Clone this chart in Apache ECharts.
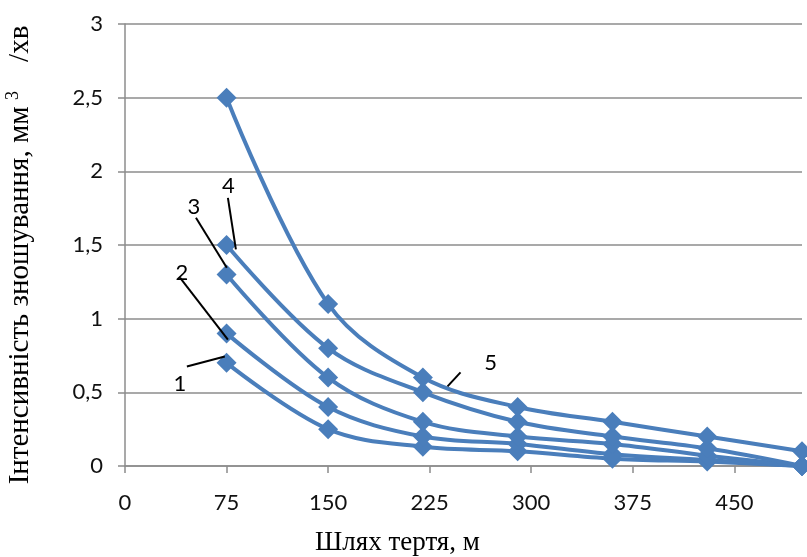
<!DOCTYPE html>
<html>
<head>
<meta charset="utf-8">
<script src="https://cdn.jsdelivr.net/npm/echarts@6/dist/echarts.min.js"></script>
<style>
  html, body { margin: 0; padding: 0; background: #fff; }
  #chart { width: 807px; height: 557px; }
</style>
</head>
<body>
<div id="chart"></div>
<script>
// Friction path, m
const distances = [75, 150, 220, 290, 360, 430, 500];
// Wear intensity for curves 1..5, mm3/min
const curve1 = [0.7, 0.25, 0.13, 0.1, 0.05, 0.03, 0];
const curve2 = [0.9, 0.4, 0.2, 0.15, 0.08, 0.04, 0];
const curve3 = [1.3, 0.6, 0.3, 0.2, 0.15, 0.07, 0];
const curve4 = [1.5, 0.8, 0.5, 0.3, 0.2, 0.12, 0];
const curve5 = [2.5, 1.1, 0.6, 0.4, 0.3, 0.2, 0.1];
const xTicks = [0, 75, 150, 225, 300, 375, 450];

const curves = [curve1, curve2, curve3, curve4, curve5];
const curveNames = ['1', '2', '3', '4', '5'];

// Callout for each curve: number position and leader line (data units)
const callouts = [
  { text: '1', at: [40.6, 0.554], line: [[45.7, 0.675], [73.7, 0.743]] },
  { text: '2', at: [42, 1.31], line: [[40.6, 1.278], [76, 0.858]] },
  { text: '3', at: [50.9, 1.756], line: [[52.4, 1.685], [75.2, 1.346]] },
  { text: '4', at: [76.3, 1.902], line: [[76, 1.82], [81.9, 1.47]] },
  { text: '5', at: [270, 0.703], line: [[238.2, 0.54], [247.8, 0.635]] }
];

const BLUE = '#4a7ebb';
const GRID = '#8c8c8c';
const numFont = 'Lato, "Open Sans", sans-serif';
const serifFont = '"Liberation Serif", "DejaVu Serif", serif';

const series = curves.map((vals, i) => {
  const c = callouts[i];
  return {
    name: curveNames[i],
    type: 'line',
    data: distances.map((d, k) => [d, vals[k]]),
    smooth: 0.35,
    symbol: 'diamond',
    symbolSize: 20,
    lineStyle: { color: BLUE, width: 4 },
    itemStyle: { color: BLUE },
    z: 2,
    markLine: {
      silent: true,
      symbol: 'none',
      animation: false,
      lineStyle: { color: '#000', width: 2, type: 'solid' },
      label: { show: false },
      data: [[{ coord: c.line[0] }, { coord: c.line[1] }]]
    },
    markPoint: {
      silent: true,
      animation: false,
      symbol: 'circle',
      symbolSize: 0,
      label: {
        show: true,
        position: 'inside',
        formatter: c.text,
        color: '#000',
        fontFamily: numFont,
        fontSize: 22
      },
      data: [{ coord: c.at }]
    }
  };
});

const chart = echarts.init(document.getElementById('chart'));
chart.setOption({
  animation: false,
  backgroundColor: '#fff',
  grid: { left: 125, top: 24, right: 5, bottom: 91, containLabel: false, outerBoundsMode: 'none' },
  xAxis: {
    type: 'value',
    min: 0,
    max: 500,
    interval: 75,
    name: 'Шлях тертя, м',
    nameLocation: 'middle',
    nameGap: 63,
    nameTextStyle: {
      fontFamily: serifFont, fontSize: 27, color: '#000',
      padding: [0, 132, 0, 0]
    },
    axisLine: { show: true, lineStyle: { color: GRID, width: 1.5 } },
    axisTick: { show: true, length: 7, inside: false, customValues: xTicks,
      lineStyle: { color: GRID, width: 1.5 } },
    axisLabel: {
      customValues: xTicks,
      margin: 26,
      fontFamily: numFont, fontSize: 22, color: '#111'
    },
    splitLine: { show: false }
  },
  yAxis: {
    type: 'value',
    min: 0,
    max: 3,
    interval: 0.5,
    name: '{a|Інтенсивність зношування, мм}{s| 3}{a|    /хв}',
    nameLocation: 'middle',
    nameGap: 88,
    nameRotate: 90,
    nameTextStyle: {
      padding: [0, 20, 0, 0],
      rich: {
        a: { fontFamily: serifFont, fontSize: 29, color: '#000' },
        s: { fontFamily: serifFont, fontSize: 18, color: '#000', padding: [0, 0, 15, 2] }
      }
    },
    axisLine: { show: true, lineStyle: { color: GRID, width: 1.5 } },
    axisTick: { show: true, length: 7, inside: false, lineStyle: { color: GRID, width: 1.5 } },
    axisLabel: {
      margin: 22,
      fontFamily: numFont, fontSize: 22, color: '#111',
      formatter: v => String(v).replace('.', ',')
    },
    splitLine: { show: true, lineStyle: { color: GRID, width: 1.5 } }
  },
  series: series
});
</script>
</body>
</html>
